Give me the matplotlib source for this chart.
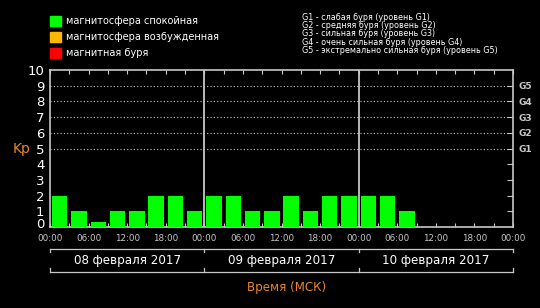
import numpy as np
import matplotlib
matplotlib.use("Agg")
import matplotlib.pyplot as plt
import matplotlib.transforms as mtransforms

# Kp index, 3-hour intervals starting 08 Feb 2017 00:00 MSK
kp = [2, 1, 0.33, 1, 1, 2, 2, 1,
      2, 2, 1, 1, 2, 1, 2, 2,
      2, 2, 1]
days = ['08 февраля 2017', '09 февраля 2017', '10 февраля 2017']
hour_labels = ['00:00', '06:00', '12:00', '18:00'] * 3 + ['00:00']
g_labels = ['G1', 'G2', 'G3', 'G4', 'G5']
legend_items = [('#00ff00', 'магнитосфера спокойная'),
                ('#ffb800', 'магнитосфера возбужденная'),
                ('#ff0000', 'магнитная буря')]
g_text = ['G1 - слабая буря (уровень G1)',
          'G2 - средняя буря (уровень G2)',
          'G3 - сильная буря (уровень G3)',
          'G4 - очень сильная буря (уровень G4)',
          'G5 - экстремально сильная буря (уровень G5)']

fg = '#c8c8c8'
orange = '#e8872a'


def kp_color(v):
    if v < 4:
        return legend_items[0][0]
    if v < 5:
        return legend_items[1][0]
    return legend_items[2][0]


fig = plt.figure(figsize=(5.4, 3.08), dpi=100, facecolor='black')
ax = fig.add_axes([50/540, 1-227/308, 463/540, 157/308])
ax.set_facecolor('black')

t = np.arange(len(kp)) * 3
ax.bar(t + 1.5, kp, width=2.4, color=[kp_color(v) for v in kp], zorder=3)

total = len(days) * 24
ax.set_xlim(0, total)
ax.set_ylim(0, 10)

for d in range(1, len(days)):
    ax.axvline(d * 24, color=fg, lw=1.3, zorder=4)
for y in range(5, 10):
    ax.axhline(y, color=fg, lw=0.8, ls=(0, (1, 2)), zorder=2)

for s in ax.spines.values():
    s.set_color(fg)
    s.set_linewidth(1.2)

ax.set_xticks(np.arange(0, total + 1, 6))
ax.set_xticklabels(hour_labels)
ax.set_xticks(np.arange(0, total + 1, 3), minor=True)
ax.tick_params(axis='x', which='both', direction='in', top=True,
               color=fg, length=3, width=0.8)
ax.tick_params(axis='x', which='major', labelsize=6.3, labelcolor=fg, pad=5)

ax.set_yticks(range(0, 11))
ax.tick_params(axis='y', which='both', length=0, labelsize=9.5,
               labelcolor='white', pad=4)
# the "0" label sits a little above the baseline in the original
lab0 = ax.get_yticklabels()[0]
lab0.set_transform(lab0.get_transform() +
                   mtransforms.ScaledTranslation(0, 3/72, fig.dpi_scale_trans))

ax2 = ax.twinx()
ax2.set_ylim(0, 10)
ax2.set_yticks(range(1, 10))
ax2.set_yticklabels([''] * 4 + g_labels)
ax2.tick_params(axis='y', direction='in', length=4, color=fg, width=0.8,
                labelsize=6.5, labelcolor=fg, pad=4)
for lab in ax2.get_yticklabels():
    lab.set_fontweight('bold')
for s in ax2.spines.values():
    s.set_visible(False)

# day brackets under the hour labels
tr = mtransforms.blended_transform_factory(ax.transData, ax.transAxes)
y_top, y_bot, tk = -0.14, -0.285, 0.022
ax.plot([0, total], [y_top, y_top], color=fg, lw=0.9, transform=tr, clip_on=False)
ax.plot([0, total], [y_bot, y_bot], color=fg, lw=0.9, transform=tr, clip_on=False)
for d in range(len(days) + 1):
    x = d * 24
    ax.plot([x, x], [y_top, y_top - tk], color=fg, lw=0.9, transform=tr, clip_on=False)
    ax.plot([x, x], [y_bot, y_bot + tk], color=fg, lw=0.9, transform=tr, clip_on=False)
for d, name in enumerate(days):
    ax.text(d * 24 + 12, -0.215, name, transform=tr, ha='center', va='center',
            color='white', fontsize=8.6)

fig.text(22/540, 1-149/308, 'Kp', color=orange, fontsize=10, ha='center', va='center')
fig.text(287/540, 1-288/308, 'Время (МСК)', color=orange, fontsize=8.6,
         ha='center', va='center')

# legend
for i, (c, lab) in enumerate(legend_items):
    yc = 21 + 16 * i
    fig.patches.append(plt.Rectangle((50/540, 1-(yc+5)/308), 11/540, 10/308,
                                     transform=fig.transFigure, color=c))
    fig.text(66/540, 1-yc/308, lab, color='white', fontsize=7,
             ha='left', va='center')

for i, line in enumerate(g_text):
    fig.text(302/540, 1-(17.5 + 8.2*i)/308, line, color='white', fontsize=5.8,
             ha='left', va='center')

fig.savefig('out.png', dpi=100, facecolor='black')
